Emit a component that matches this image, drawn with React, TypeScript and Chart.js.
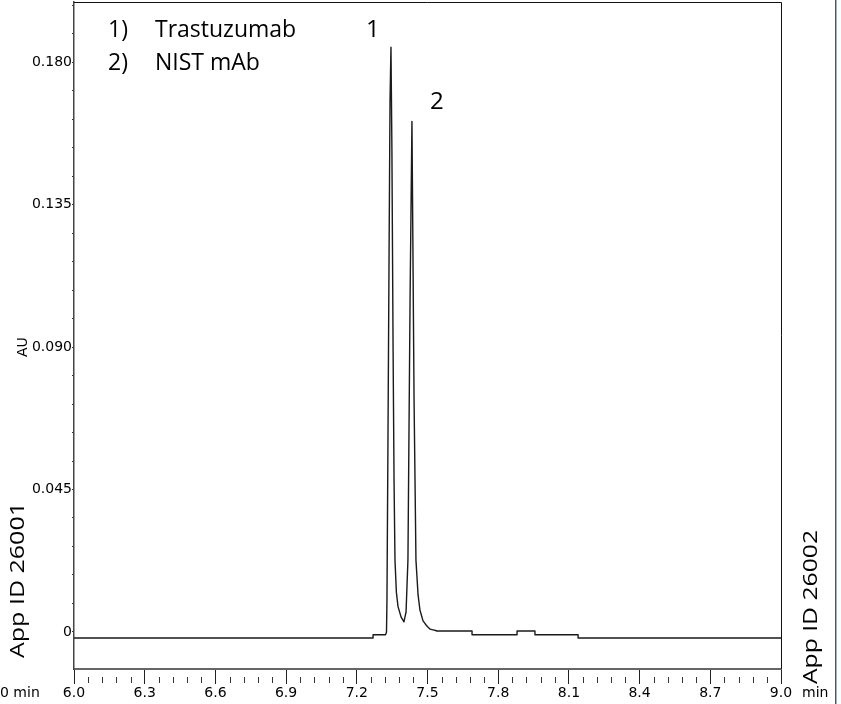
import React, { useEffect, useRef } from 'react';
import { Chart, registerables } from 'chart.js';

Chart.register(...registerables);

// Retention time (min) and absorbance (AU)
const timeMin = [6.0, 7.269, 7.269, 7.322, 7.326, 7.328, 7.332, 7.337, 7.341, 7.345, 7.349, 7.354, 7.358, 7.362, 7.368, 7.375, 7.388, 7.4, 7.409, 7.417, 7.426, 7.434, 7.443, 7.451, 7.46, 7.468, 7.481, 7.494, 7.505, 7.511, 7.528, 7.54, 7.689, 7.689, 7.88, 7.88, 7.956, 7.956, 8.139, 8.139, 9.0];
const absorbanceAU = [-0.0019, -0.0019, -0.0009, -0.0009, 0.0, 0.0101, 0.0575, 0.1206, 0.168, 0.1847, 0.1522, 0.089, 0.048, 0.0227, 0.0125, 0.008, 0.0047, 0.0032, 0.0063, 0.0227, 0.1048, 0.1613, 0.0733, 0.0227, 0.0117, 0.0069, 0.0035, 0.0022, 0.0013, 0.0009, 0.0006, 0.0003, 0.0003, -0.0009, -0.0009, 0.0003, 0.0003, -0.0009, -0.0009, -0.0019, -0.0019];

// Axis ticks
const xMajorTicks = [6.0, 6.3, 6.6, 6.9, 7.2, 7.5, 7.8, 8.1, 8.4, 8.7, 9.0];
const xMinorStep = 0.06;
const yLabeledTicks = [0, 0.045, 0.09, 0.135, 0.18];
const yMinorStep = 0.009;
const xMin = 6.0;
const xMax = 9.0;
const yMin = -0.0117;
const yMax = 0.199;

// Annotations
const legendNumbers = ['1)', '2)'];
const legendNames = ['Trastuzumab', 'NIST mAb'];
const peakNames = ['1', '2'];
const peakTimes = [7.345, 7.434];
const peakHeights = [0.1847, 0.1613];
const yAxisTitle = 'AU';
const leftId = 'App ID 26001';
const rightId = 'App ID 26002';
const xUnitLeft = '0 min';
const xUnitRight = 'min';

const TICK_FONT = '"DejaVu Sans", sans-serif';
const NOTE_FONT = '"Open Sans", sans-serif';

function buildMinorX(): number[] {
  const out: number[] = [];
  for (let i = 0; i <= Math.round((xMax - xMin) / xMinorStep); i++) {
    if (i % 5 !== 0) out.push(xMin + i * xMinorStep);
  }
  return out;
}

function buildYTicks(): number[] {
  const out: number[] = [];
  for (let i = 0; i * yMinorStep <= yMax - 0.001; i++) out.push(i * yMinorStep);
  return out;
}

const annotationPlugin = {
  id: 'annotations',
  afterDraw(chart: any) {
    const ctx = chart.ctx as CanvasRenderingContext2D;
    const { left, right, top, bottom } = chart.chartArea;
    const xs = chart.scales.x;
    const ys = chart.scales.y;
    ctx.save();

    // frame (top and right)
    ctx.strokeStyle = '#111';
    ctx.lineWidth = 1;
    ctx.beginPath();
    ctx.moveTo(left, top + 0.5);
    ctx.lineTo(right + 0.5, top + 0.5);
    ctx.lineTo(right + 0.5, bottom);
    ctx.stroke();

    // minor x ticks
    ctx.strokeStyle = '#333';
    ctx.beginPath();
    buildMinorX().forEach((v) => {
      const px = Math.round(xs.getPixelForValue(v)) + 0.5;
      ctx.moveTo(px, bottom + 8);
      ctx.lineTo(px, bottom + 14);
    });
    ctx.stroke();

    // x unit labels
    ctx.fillStyle = '#000';
    ctx.font = `14px ${TICK_FONT}`;
    ctx.textBaseline = 'middle';
    ctx.textAlign = 'left';
    ctx.fillText(xUnitLeft, 0, bottom + 24);
    ctx.fillText(xUnitRight, right + 21, bottom + 24);

    // y axis title
    ctx.save();
    ctx.font = `14px ${TICK_FONT}`;
    ctx.translate(left - 51, ys.getPixelForValue(0.09));
    ctx.rotate(-Math.PI / 2);
    ctx.textAlign = 'center';
    ctx.fillText(yAxisTitle, 0, 0);
    ctx.restore();

    // rotated App IDs
    const drawRotated = (text: string, cx: number, cy: number, len: number) => {
      ctx.save();
      ctx.font = `20px ${NOTE_FONT}`;
      const w = ctx.measureText(text).width;
      ctx.translate(cx, cy);
      ctx.rotate(-Math.PI / 2);
      ctx.scale(len / w, 1);
      ctx.textAlign = 'center';
      ctx.textBaseline = 'middle';
      ctx.fillText(text, 0, 0);
      ctx.restore();
    };
    drawRotated(leftId, 18, 580, 156);
    drawRotated(rightId, 811, 607, 154);

    // legend
    ctx.font = `23px ${NOTE_FONT}`;
    ctx.textBaseline = 'middle';
    ctx.textAlign = 'left';
    legendNumbers.forEach((n, i) => {
      const y = top + 28 + i * 33;
      ctx.fillText(n, left + 34, y);
      ctx.fillText(legendNames[i], left + 81, y);
    });

    // peak labels
    ctx.font = `24px ${NOTE_FONT}`;
    ctx.textAlign = 'center';
    const offsets = [[-18, -17], [25, -19]];
    peakNames.forEach((p, i) => {
      const px = xs.getPixelForValue(peakTimes[i]) + offsets[i][0];
      const py = ys.getPixelForValue(peakHeights[i]) + offsets[i][1];
      ctx.fillText(p, px, py);
    });

    // page border on the right
    ctx.fillStyle = '#3d5a78';
    ctx.fillRect(835, 0, 1, chart.height);
    ctx.fillStyle = '#9fb2c6';
    ctx.fillRect(836, 0, 1, chart.height);

    ctx.restore();
  },
};

export default function App() {
  const canvasRef = useRef<HTMLCanvasElement | null>(null);

  useEffect(() => {
    if (!canvasRef.current) return;
    const points = timeMin.map((t, i) => ({ x: t, y: absorbanceAU[i] }));
    const yTicks = buildYTicks();
    const chart = new Chart(canvasRef.current, {
      type: 'line',
      data: {
        datasets: [
          {
            data: points,
            borderColor: '#1a1a1a',
            borderWidth: 1.4,
            borderJoinStyle: 'round',
            borderCapStyle: 'round',
            pointRadius: 0,
            tension: 0.001,
            fill: false,
          },
        ],
      },
      options: {
        animation: false,
        responsive: false,
        devicePixelRatio: 1,
        layout: { padding: { top: 2, right: 60, bottom: 0, left: 0 } },
        plugins: { legend: { display: false }, tooltip: { enabled: false }, title: { display: false } },
        scales: {
          x: {
            type: 'linear',
            min: xMin,
            max: xMax,
            afterBuildTicks: (scale: any) => {
              scale.ticks = xMajorTicks.map((v) => ({ value: v }));
            },
            afterFit: (scale: any) => {
              scale.height = 35;
              scale.paddingLeft = 0;
              scale.paddingRight = 0;
            },
            ticks: {
              autoSkip: false,
              maxRotation: 0,
              padding: 1,
              color: '#000',
              font: { family: TICK_FONT, size: 14 },
              callback: (v: any) => Number(v).toFixed(1),
            },
            grid: { drawOnChartArea: false, drawTicks: true, tickLength: 15, tickColor: '#222', tickWidth: 1 },
            border: { display: true, color: '#666', width: 2 },
          },
          y: {
            type: 'linear',
            min: yMin,
            max: yMax,
            afterBuildTicks: (scale: any) => {
              scale.ticks = yTicks.map((v) => ({ value: v }));
            },
            afterFit: (scale: any) => {
              scale.width = 74;
              scale.paddingTop = 0;
              scale.paddingBottom = 0;
            },
            ticks: {
              autoSkip: false,
              padding: 0,
              color: '#000',
              font: { family: TICK_FONT, size: 14 },
              callback: (v: any) => {
                const n = Number(v);
                const hit = yLabeledTicks.find((t) => Math.abs(t - n) < 1e-6);
                if (hit === undefined) return '';
                return hit === 0 ? '0' : hit.toFixed(3);
              },
            },
            grid: { drawOnChartArea: false, drawTicks: true, tickLength: 2, tickColor: '#333', tickWidth: 1 },
            border: { display: true, color: '#444', width: 1.5 },
          },
        },
      },
      plugins: [annotationPlugin],
    });
    return () => chart.destroy();
  }, []);

  return (
    <canvas
      ref={canvasRef}
      width={841}
      height={704}
      style={{ position: 'fixed', left: 0, top: 0, width: '841px', height: '704px', background: '#fff' }}
    />
  );
}
